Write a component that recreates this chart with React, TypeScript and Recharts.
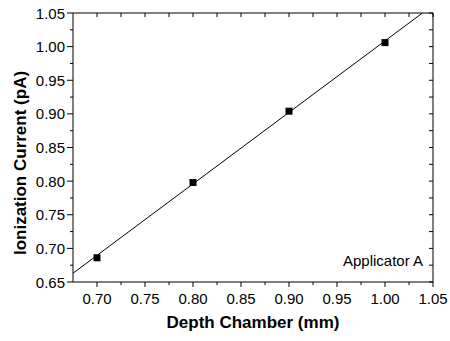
import { ScatterChart, Scatter, XAxis, YAxis, ReferenceLine } from 'recharts';

const depth = [0.7, 0.8, 0.9, 1.0];
const current = [0.686, 0.798, 0.904, 1.006];
const fitLine = [
  { x: 0.675, y: 0.663 },
  { x: 1.039, y: 1.05 },
];
const xTicks = [0.7, 0.725, 0.75, 0.775, 0.8, 0.825, 0.85, 0.875, 0.9, 0.925, 0.95, 0.975, 1.0, 1.025, 1.05];
const yTicks = [0.65, 0.675, 0.7, 0.725, 0.75, 0.775, 0.8, 0.825, 0.85, 0.875, 0.9, 0.925, 0.95, 0.975, 1.0, 1.025, 1.05];
const xMajor = ['0.70', '0.75', '0.80', '0.85', '0.90', '0.95', '1.00', '1.05'];
const yMajor = ['0.65', '0.70', '0.75', '0.80', '0.85', '0.90', '0.95', '1.00', '1.05'];

const points = depth.map((d, i) => ({ x: d, y: current[i] }));
const font = 'Arial, "Liberation Sans", sans-serif';

const BottomTick = (props: any) => {
  const { x, y, payload } = props;
  const label = payload.value.toFixed(2);
  const major = xMajor.includes(label);
  return (
    <g>
      <line x1={x} y1={y} x2={x} y2={y + (major ? 5 : 3)} stroke="#000" />
      {major && (
        <text x={x} y={y + 22} textAnchor="middle" fontSize={15} fontFamily={font} fill="#000">
          {label}
        </text>
      )}
    </g>
  );
};

const LeftTick = (props: any) => {
  const { x, y, payload } = props;
  const label = payload.value.toFixed(2);
  const major = yMajor.includes(label);
  return (
    <g>
      <line x1={x} y1={y} x2={x - (major ? 6 : 3)} y2={y} stroke="#000" />
      {major && (
        <text x={x - 8} y={y + 5.5} textAnchor="end" fontSize={15} fontFamily={font} fill="#000">
          {label}
        </text>
      )}
    </g>
  );
};

const TopTick = (props: any) => {
  const { x, y } = props;
  return <line x1={x} y1={y} x2={x} y2={y + 4} stroke="#000" />;
};

const RightTick = (props: any) => {
  const { x, y } = props;
  return <line x1={x} y1={y} x2={x - 4} y2={y} stroke="#000" />;
};

const Square = (props: any) => {
  const { cx, cy } = props;
  return <rect x={cx - 3.5} y={cy - 3.5} width={7} height={7} fill="#000" />;
};

export default function App() {
  return (
    <div style={{ position: 'absolute', left: 0, top: 0, width: 450, height: 341, background: '#fff' }}>
      <ScatterChart width={450} height={341} margin={{ top: 12, right: 16, bottom: 0, left: 0 }}>
        <XAxis
          xAxisId="bottom"
          type="number"
          dataKey="x"
          domain={[0.675, 1.05]}
          ticks={xTicks}
          interval={0}
          height={59}
          tickSize={0}
          tickMargin={0}
          tickLine={false}
          tick={<BottomTick />}
          axisLine={{ stroke: '#000' }}
          allowDataOverflow
          label={{
            value: 'Depth Chamber (mm)',
            position: 'insideBottom',
            offset: 13,
            style: { fontSize: 17, fontWeight: 'bold', fontFamily: font, fill: '#000' },
          }}
        />
        <XAxis
          xAxisId="top"
          orientation="top"
          type="number"
          dataKey="x"
          domain={[0.675, 1.05]}
          ticks={xTicks}
          interval={0}
          height={1}
          tickSize={0}
          tickMargin={0}
          tickLine={false}
          tick={<TopTick />}
          axisLine={{ stroke: '#000' }}
          allowDataOverflow
        />
        <YAxis
          yAxisId="left"
          type="number"
          dataKey="y"
          domain={[0.65, 1.05]}
          ticks={yTicks}
          interval={0}
          width={73}
          tickSize={0}
          tickMargin={0}
          tickLine={false}
          tick={<LeftTick />}
          axisLine={{ stroke: '#000' }}
          allowDataOverflow
          label={() => (
            <text
              x={26}
              y={163}
              transform="rotate(-90 26 163)"
              textAnchor="middle"
              fontSize={17}
              fontWeight="bold"
              fontFamily={font}
              fill="#000"
            >
              Ionization Current (pA)
            </text>
          )}
        />
        <YAxis
          yAxisId="right"
          orientation="right"
          type="number"
          dataKey="y"
          domain={[0.65, 1.05]}
          ticks={yTicks}
          interval={0}
          width={1}
          tickSize={0}
          tickMargin={0}
          tickLine={false}
          tick={<RightTick />}
          axisLine={{ stroke: '#000' }}
          allowDataOverflow
        />
        <ReferenceLine
          xAxisId="bottom"
          yAxisId="left"
          segment={fitLine}
          stroke="#000"
          strokeWidth={1}
          ifOverflow="hidden"
        />
        <Scatter
          xAxisId="bottom"
          yAxisId="left"
          data={points}
          shape={<Square />}
          isAnimationActive={false}
        />
        <text x={423} y={266} textAnchor="end" fontSize={15} fontFamily={font} fill="#000">
          Applicator A
        </text>
      </ScatterChart>
    </div>
  );
}
